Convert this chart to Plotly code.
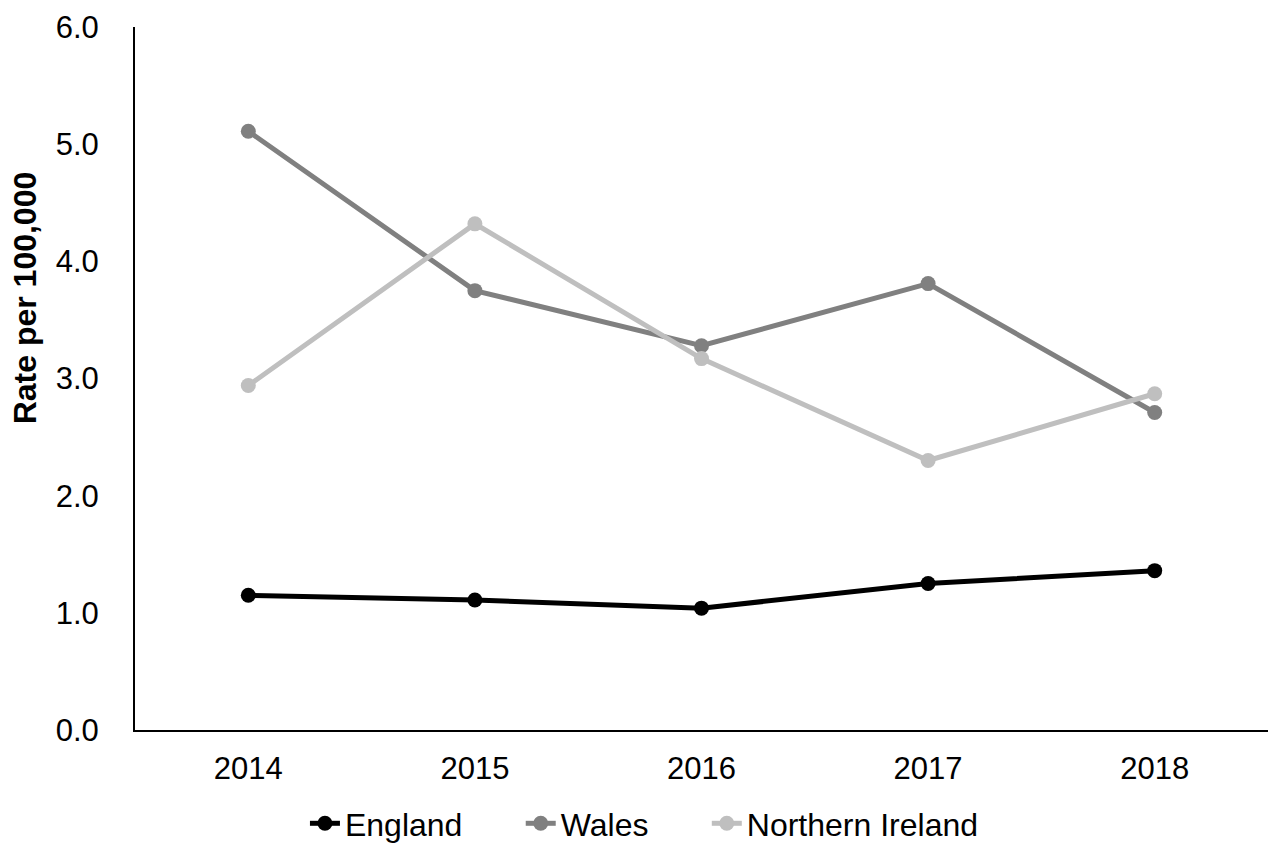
import plotly.graph_objects as go

years = ["2014", "2015", "2016", "2017", "2018"]
england = [1.15, 1.11, 1.04, 1.25, 1.36]
wales = [5.11, 3.75, 3.28, 3.81, 2.71]
northern_ireland = [2.94, 4.32, 3.17, 2.30, 2.87]

# trailing non-breaking spaces widen the gap between legend entries
series = [
    ("England" + "\u00a0" * 6, england, "#000000"),
    ("Wales" + "\u00a0" * 6, wales, "#808080"),
    ("Northern Ireland", northern_ireland, "#bfbfbf"),
]

FONT = "Liberation Sans, Arial, sans-serif"

fig = go.Figure()
for name, vals, color in series:
    fig.add_trace(go.Scatter(
        x=years, y=vals, name=name, mode="lines+markers",
        line=dict(color=color, width=5),
        marker=dict(color=color, size=15),
    ))

fig.update_layout(
    width=1268, height=843,
    margin=dict(l=135, r=0, t=27, b=113, autoexpand=False),
    paper_bgcolor="white", plot_bgcolor="white",
    font=dict(family=FONT, size=31, color="#000000"),
    showlegend=True,
    legend=dict(orientation="h", x=0.15, xanchor="left", y=-0.133, yanchor="middle",
                font=dict(size=32), tracegroupgap=0),
    xaxis=dict(type="category", range=[-0.5, 4.5], showline=True, linecolor="#000000",
               linewidth=2, showgrid=False, ticks="", ticklabelstandoff=10,
               tickfont=dict(size=31)),
    yaxis=dict(range=[0, 6], dtick=1, tickformat=".1f", showline=True, linecolor="#000000",
               linewidth=2, showgrid=False, zeroline=False, ticks="", ticklabelstandoff=28,
               tickfont=dict(size=31)),
)

fig.add_annotation(
    text="<b>Rate per 100,000</b>", textangle=-90,
    xref="paper", yref="paper", x=(25 - 135) / 1133, y=0.614,
    xanchor="center", yanchor="middle", showarrow=False,
    font=dict(family=FONT, size=32, color="#000000"),
)

fig.write_html("out.html")
